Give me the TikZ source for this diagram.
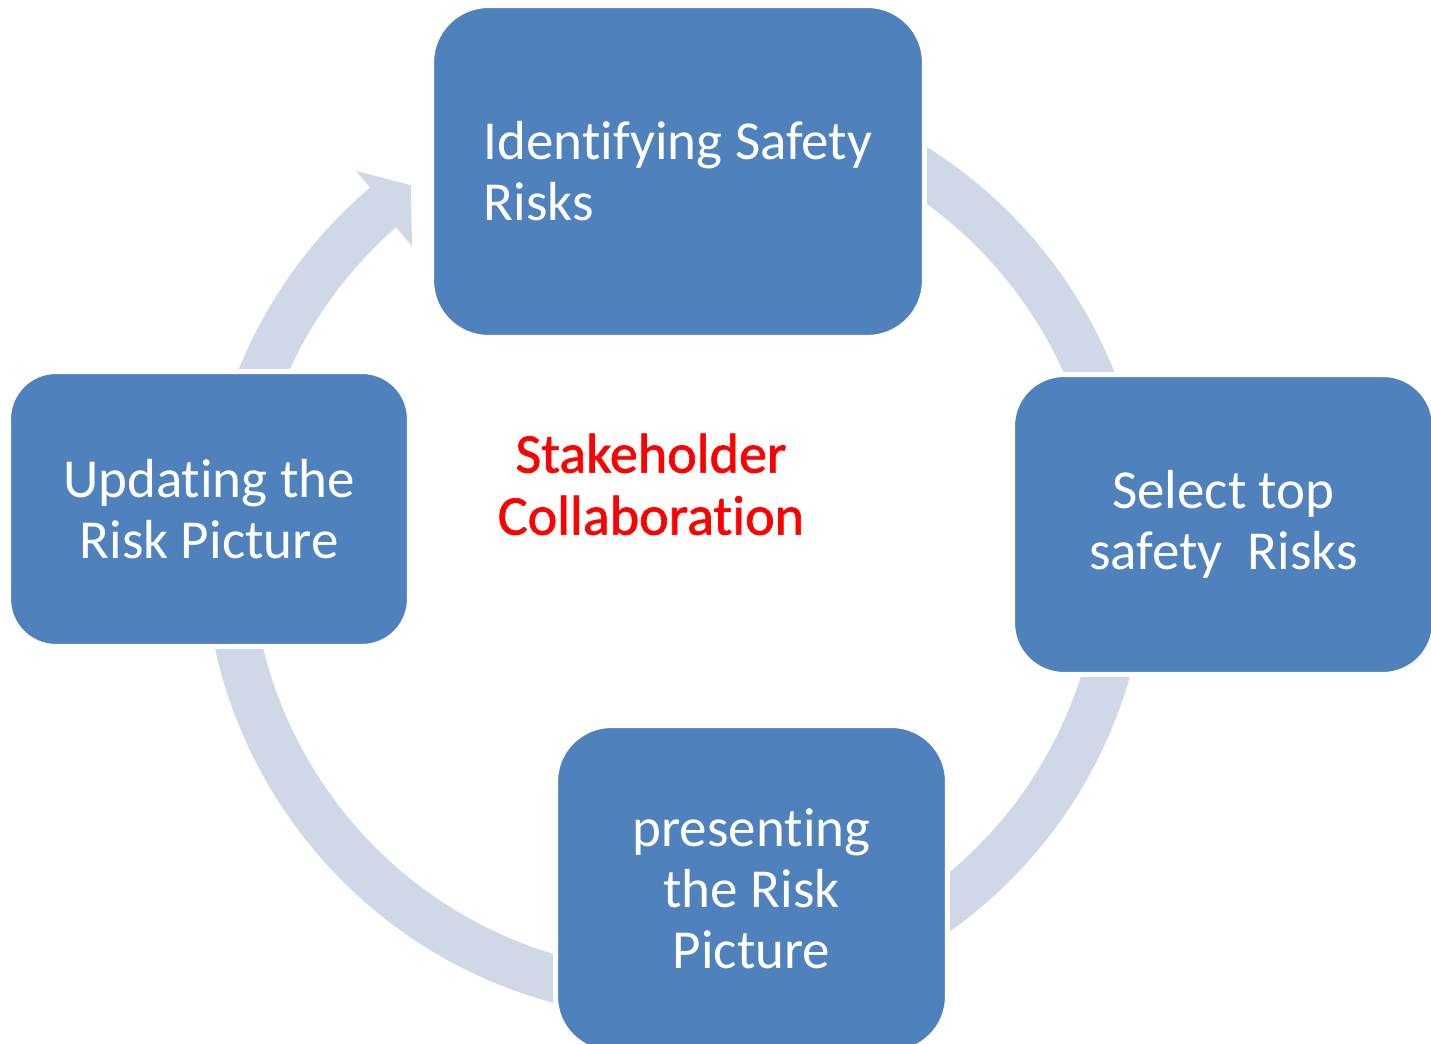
\documentclass[tikz,border=0pt]{standalone}
\usepackage{fontspec}
\setmainfont{Carlito}
\newfontfamily\labelfont{Carlito}[FakeBold=1.2]

% t and i set apart, so they stay two letters
\newcommand\tiapart{t\kern0pt i}

\definecolor{boxblue}{HTML}{4F81BD}
\definecolor{ringblue}{HTML}{D0D8E8}
\definecolor{labelred}{HTML}{FF0000}

\tikzset{
    stagebox/.style={rectangle, fill=boxblue, draw=white, line width=0.1cm,
        text=white, align=center, inner sep=0pt,
        font=\fontsize{31.3}{34.7}\selectfont},
}

\begin{document}
\begin{tikzpicture}[x=0.02cm, y=0.02cm]

    % Page frame, one unit per pixel
    \useasboundingbox (0,0) rectangle (1431,1044);

    % Define the centre of the ring and its outer and inner radii
    \def\Ro{472}
    \def\Ri{425}
    \coordinate (O) at (676,497);

    % The ring arrow, running clockwise and ending in a head at the upper left.
    % It starts under the top box; the boxes are drawn over it later.
    \fill[ringblue, shift={(O)}]
        (80:\Ro) arc[start angle=80, end angle=-229.6, radius=\Ro]
        -- (-229.6:494) -- (-233.75:448.5) -- (-228.7:400)
        -- (-228.8:\Ri) arc[start angle=-228.8, end angle=80, radius=\Ri]
        -- cycle;

    % The four stages, each with a white rim that cuts the ring
    \node[stagebox, minimum width=9.86cm, minimum height=6.64cm,
        rounded corners=1.14cm, align=left] (identify) at (678,872.5)
        {Iden\tiapart fying Safety\\Risks};
    \node[stagebox, minimum width=8.44cm, minimum height=6cm,
        rounded corners=1.03cm] (select) at (1223.5,519.5)
        {Select top\\safety\ \ Risks};
    \node[stagebox, minimum width=7.84cm, minimum height=6.54cm,
        rounded corners=1.12cm] (present) at (751.5,155)
        {presen\tiapart ng\\the Risk\\Picture};
    \node[stagebox, minimum width=8.02cm, minimum height=5.5cm,
        rounded corners=0.95cm] (update) at (209,535)
        {Upda\tiapart ng the\\Risk Picture};

    % Label in the middle of the cycle
    \node[text=labelred, align=center,
        font=\labelfont\fontsize{31.9}{35.3}\selectfont]
        (collab) at (651,559.6) {Stakeholder\\Collabora\tiapart on};

\end{tikzpicture}
\end{document}
